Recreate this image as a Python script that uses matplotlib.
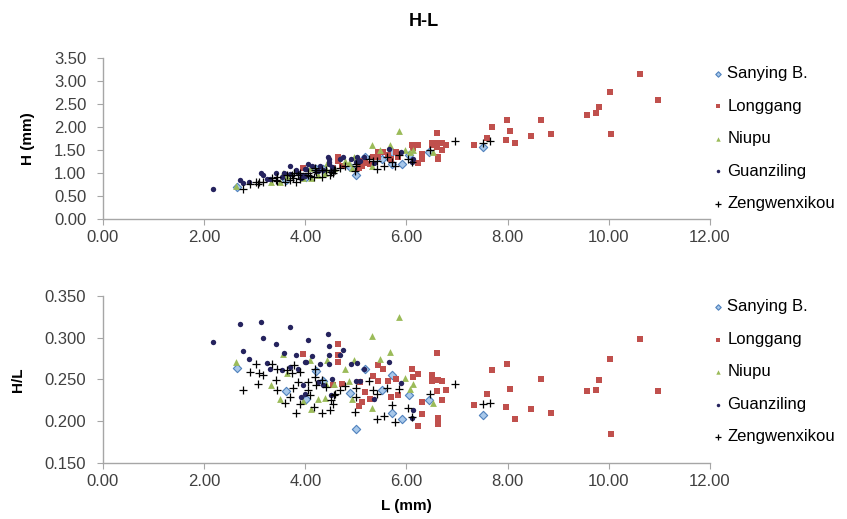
import matplotlib
matplotlib.use('Agg')
import matplotlib.pyplot as plt
import numpy as np
from matplotlib.ticker import FormatStrFormatter

plt.rcParams['font.family'] = ['Liberation Sans', 'DejaVu Sans']

# values (L in mm, H/L ratio); H = L * H/L
sanying_L = [2.65, 3.61, 4.02, 4.22, 4.35, 4.88, 5.18, 5.71, 5.51, 6.05,
             5.71, 5.92, 5.01, 6.45, 7.52]
sanying_HL = [0.264, 0.236, 0.227, 0.260, 0.248, 0.234, 0.262, 0.255, 0.237, 0.231,
              0.210, 0.203, 0.191, 0.225, 0.207]

longgang_L = [3.95, 4.65, 4.65, 4.65, 4.55, 4.72, 5.08, 5.18, 5.28, 5.13,
              5.06, 5.34, 5.44, 5.44, 5.54, 5.64, 5.80, 5.69, 5.84, 6.10,
              6.23, 6.13, 6.50, 6.50, 6.63, 6.70, 6.60, 6.79, 6.70, 6.30,
              6.30, 6.23, 6.63, 6.63, 6.60, 7.33, 7.60, 7.70, 7.99, 8.05,
              7.97, 8.15, 8.47, 8.65, 8.85, 9.56, 9.75, 9.81, 10.02, 10.04,
              10.62, 10.98]
longgang_HL = [0.281, 0.292, 0.279, 0.271, 0.243, 0.245, 0.247, 0.235, 0.227, 0.223,
               0.218, 0.254, 0.248, 0.267, 0.262, 0.248, 0.250, 0.229, 0.231, 0.263,
               0.257, 0.253, 0.255, 0.248, 0.249, 0.248, 0.236, 0.237, 0.225, 0.223,
               0.208, 0.194, 0.204, 0.197, 0.282, 0.219, 0.232, 0.261, 0.269, 0.239,
               0.217, 0.203, 0.214, 0.250, 0.210, 0.236, 0.237, 0.249, 0.275, 0.185,
               0.298, 0.236]

niupu_L = [2.63, 3.33, 3.50, 3.56, 3.63, 3.96, 4.12, 4.25, 4.09, 4.39,
           4.41, 4.43, 4.56, 4.78, 4.87, 4.96, 4.93, 5.31, 5.31, 5.47,
           5.67, 5.86, 5.97, 6.07, 6.12, 6.53]
niupu_HL = [0.271, 0.243, 0.227, 0.281, 0.258, 0.224, 0.214, 0.226, 0.273, 0.228,
            0.245, 0.273, 0.245, 0.262, 0.248, 0.273, 0.226, 0.216, 0.302, 0.275,
            0.283, 0.325, 0.252, 0.239, 0.245, 0.222]

guanziling_L = [2.18, 2.70, 2.76, 2.89, 3.13, 3.17, 3.24, 3.43, 3.58, 3.53,
                3.69, 3.81, 3.69, 4.06, 3.99, 4.13, 4.45, 4.47, 4.47, 4.46,
                4.68, 4.75, 4.91, 5.03, 5.16, 5.66, 5.90, 5.36, 5.08, 6.13,
                6.11, 3.96, 3.99, 4.25, 4.35, 3.92, 4.30, 3.30, 3.85, 4.02,
                4.50, 4.53, 5.01]
guanziling_HL = [0.295, 0.316, 0.284, 0.275, 0.319, 0.300, 0.270, 0.292, 0.282, 0.261,
                 0.313, 0.279, 0.265, 0.297, 0.271, 0.278, 0.304, 0.290, 0.279, 0.269,
                 0.279, 0.285, 0.268, 0.270, 0.262, 0.271, 0.246, 0.226, 0.248, 0.213,
                 0.204, 0.243, 0.232, 0.247, 0.243, 0.229, 0.269, 0.262, 0.262, 0.271,
                 0.231, 0.250, 0.248]

zeng_L = [2.76, 2.90, 3.02, 3.07, 3.09, 3.17, 3.35, 3.44, 3.42, 3.45,
          3.63, 3.77, 3.89, 3.74, 3.86, 3.76, 3.59, 3.69, 3.81, 3.89,
          4.06, 4.06, 4.09, 4.19, 4.19, 4.22, 4.17, 4.32, 4.32, 4.48,
          4.51, 4.55, 4.57, 4.41, 4.68, 4.78, 4.58, 5.01, 5.01, 4.98,
          5.26, 5.34, 5.41, 5.61, 5.86, 5.71, 6.03, 5.41, 5.55, 5.77,
          6.10, 6.46, 6.96, 7.52, 7.65]
zeng_HL = [0.237, 0.259, 0.268, 0.245, 0.258, 0.255, 0.269, 0.263, 0.249, 0.237,
           0.261, 0.267, 0.259, 0.258, 0.247, 0.240, 0.222, 0.229, 0.210, 0.221,
           0.237, 0.247, 0.231, 0.263, 0.253, 0.243, 0.217, 0.249, 0.210, 0.213,
           0.225, 0.221, 0.231, 0.241, 0.237, 0.242, 0.232, 0.240, 0.229, 0.211,
           0.248, 0.237, 0.232, 0.240, 0.239, 0.219, 0.216, 0.203, 0.206, 0.199,
           0.205, 0.233, 0.244, 0.220, 0.222]

series = [
    ('Sanying B.', sanying_L, sanying_HL, dict(marker='D', s=18, facecolor='#a8c8ea', edgecolor='#4f81bd', linewidths=0.8)),
    ('Longgang', longgang_L, longgang_HL, dict(marker='s', s=22, color='#c0504d', linewidths=0)),
    ('Niupu', niupu_L, niupu_HL, dict(marker='^', s=24, color='#9bbb59', linewidths=0)),
    ('Guanziling', guanziling_L, guanziling_HL, dict(marker='o', s=15, color='#25235e', linewidths=0)),
    ('Zengwenxikou', zeng_L, zeng_HL, dict(marker='+', s=40, color='black', linewidths=0.9)),
]

fig = plt.figure(figsize=(8.47, 5.19), dpi=100)
ax1 = fig.add_axes([0.1216, 0.578, 0.7166, 0.310])
ax2 = fig.add_axes([0.1216, 0.1085, 0.7166, 0.321])

for name, L, HL, style in series:
    L = np.array(L)
    HL = np.array(HL)
    ax1.scatter(L, L * HL, label=name, **style)
    ax2.scatter(L, HL, label=name, **style)


def style_axes(ax, ylim, yticks, yfmt, ylabel, leg_y):
    ax.set_xlim(0, 12)
    ax.set_ylim(*ylim)
    ax.set_xticks(np.arange(0, 12.1, 2))
    ax.set_yticks(yticks)
    ax.xaxis.set_major_formatter(FormatStrFormatter('%.2f'))
    ax.yaxis.set_major_formatter(FormatStrFormatter(yfmt))
    for sp in ['top', 'right']:
        ax.spines[sp].set_visible(False)
    for sp in ['left', 'bottom']:
        ax.spines[sp].set_color('#a6a6a6')
        ax.spines[sp].set_linewidth(1)
    ax.tick_params(direction='out', length=4, color='#a6a6a6', labelsize=12,
                   labelcolor='#404040')
    ax.tick_params(axis='y', pad=8)
    ax.tick_params(axis='x', pad=4)
    ax.set_ylabel(ylabel, fontsize=11, fontweight='bold', labelpad=14)
    ax.legend(loc='upper left', bbox_to_anchor=(1.0, leg_y), frameon=False,
              fontsize=12, handlelength=0.6, handletextpad=0.25, labelspacing=1.05,
              markerscale=0.65, scatterpoints=1, borderaxespad=0, borderpad=0.2)


style_axes(ax1, (0, 3.5), np.arange(0, 3.51, 0.5), '%.2f', 'H (mm)', 0.97)
style_axes(ax2, (0.15, 0.35), np.arange(0.15, 0.351, 0.05), '%.3f', 'H/L', 1.0)
ax2.set_xlabel('L (mm)', fontsize=11, fontweight='bold', labelpad=7)

fig.suptitle('H-L', x=0.5, y=0.975, fontsize=13, fontweight='bold')

fig.savefig('out.png', dpi=100)
